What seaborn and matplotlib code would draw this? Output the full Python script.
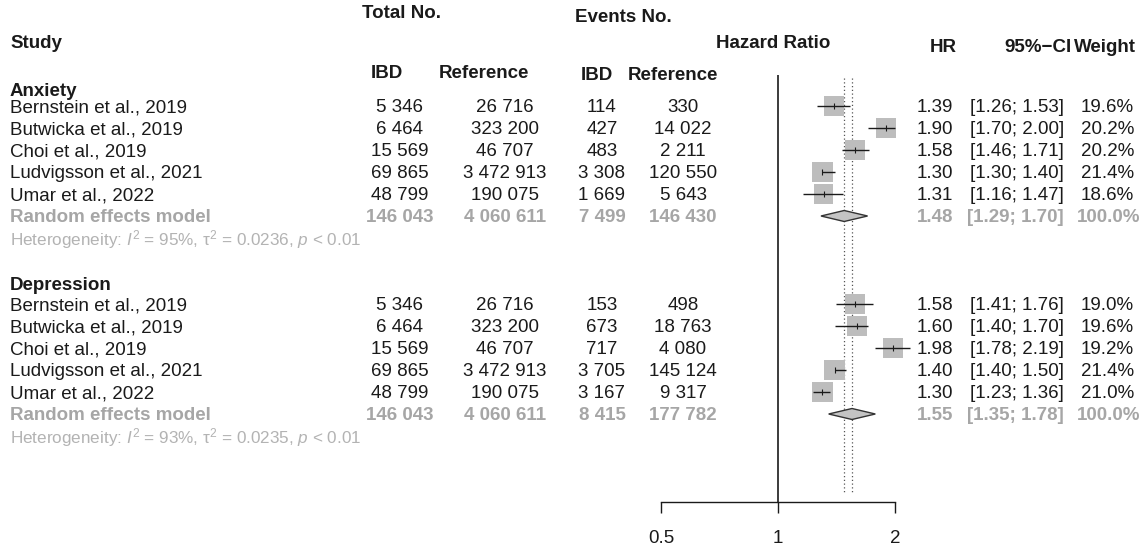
import seaborn as sns
import matplotlib.pyplot as plt
import numpy as np

# ---- data ----
studies = ["Bernstein et al., 2019", "Butwicka et al., 2019", "Choi et al., 2019",
           "Ludvigsson et al., 2021", "Umar et al., 2022"]
total_ibd = [5346, 6464, 15569, 69865, 48799]
total_ref = [26716, 323200, 46707, 3472913, 190075]

anx_evt_ibd = [114, 427, 483, 3308, 1669]
anx_evt_ref = [330, 14022, 2211, 120550, 5643]
anx_hr = [1.39, 1.90, 1.58, 1.30, 1.31]
anx_lo = [1.26, 1.70, 1.46, 1.30, 1.16]
anx_hi = [1.53, 2.00, 1.71, 1.40, 1.47]
anx_w = [19.6, 20.2, 20.2, 21.4, 18.6]
anx_pool = [146043, 4060611, 7499, 146430]
anx_pool_hr = [1.48, 1.29, 1.70]
anx_het = ["95%", "0.0236", "0.01"]

dep_evt_ibd = [153, 673, 717, 3705, 3167]
dep_evt_ref = [498, 18763, 4080, 145124, 9317]
dep_hr = [1.58, 1.60, 1.98, 1.40, 1.30]
dep_lo = [1.41, 1.40, 1.78, 1.40, 1.23]
dep_hi = [1.76, 1.70, 2.19, 1.50, 1.36]
dep_w = [19.0, 19.6, 19.2, 21.4, 21.0]
dep_pool = [146043, 4060611, 8415, 177782]
dep_pool_hr = [1.55, 1.35, 1.78]
dep_het = ["93%", "0.0235", "0.01"]

x_ticks = [0.5, 1, 2]

sns.set_theme(style="white")
plt.rcParams['font.family'] = ['Liberation Sans', 'DejaVu Sans']
plt.rcParams['mathtext.fontset'] = 'custom'
plt.rcParams['mathtext.rm'] = 'Liberation Sans'
plt.rcParams['mathtext.it'] = 'Liberation Sans:italic'

BLACK = '#1a1a1a'
GREY = '#a6a6a6'
HETGREY = '#b3b3b3'
FS = 13.5
ROW = 22

W, H = 1146, 545
fig = plt.figure(figsize=(W / 100, H / 100), dpi=100)
tx = fig.add_axes([0, 0, 1, 1])
tx.set_xlim(0, W)
tx.set_ylim(H, 0)
tx.axis('off')

# forest panel: log axis 0.5..2 mapped to its own box
X05, X2 = 661, 895
ax = fig.add_axes([X05 / W, 0, (X2 - X05) / W, 1])
ax.patch.set_alpha(0)
ax.set_xscale('log')
ax.set_xlim(0.5, 2)
ax.set_ylim(H, 0)

# column x positions (pixels)
COL_STUDY = 10
COL_TIBD, COL_TREF, COL_EIBD, COL_EREF = 400, 505, 602, 683
COL_HR, COL_CI, COL_W = 953, 1064, 1134


def fmt(n):
    return f"{n:,}".replace(",", " ")


def txt(x, y, s, ha='left', color=BLACK, bold=False, size=FS):
    tx.text(x, y + 2, s, ha=ha, va='center', color=color, fontsize=size,
            fontweight='bold' if bold else 'normal')


# headers
txt(COL_STUDY, 41, "Study", bold=True)
txt(362, 12, "Total No.", bold=True)
txt(575, 15, "Events No.", bold=True)
txt(COL_TIBD - 13, 72, "IBD", ha='center', bold=True)
txt(COL_TREF - 21, 72, "Reference", ha='center', bold=True)
txt(COL_EIBD - 5, 74, "IBD", ha='center', bold=True)
txt(COL_EREF - 10, 74, "Reference", ha='center', bold=True)
txt(773, 41, "Hazard Ratio", ha='center', bold=True)
txt(COL_HR + 4, 45, "HR", ha='right', bold=True)
txt(COL_CI + 8, 45, "95%\u2212CI", ha='right', bold=True)
txt(1136, 45, "Weight", ha='right', bold=True)


def block(top, gap, name, evt_ibd, evt_ref, hr, lo, hi, w, pool, pool_hr, het):
    txt(COL_STUDY, top - gap, name, bold=True)
    ys = np.array([top + ROW * i for i in range(len(studies))])
    for i, y in enumerate(ys):
        txt(COL_STUDY, y, studies[i])
        txt(COL_TIBD, y, fmt(total_ibd[i]), ha='center')
        txt(COL_TREF, y, fmt(total_ref[i]), ha='center')
        txt(COL_EIBD, y, fmt(evt_ibd[i]), ha='center')
        txt(COL_EREF, y, fmt(evt_ref[i]), ha='center')
        txt(COL_HR, y, f"{hr[i]:.2f}", ha='right')
        txt(COL_CI, y, f"[{lo[i]:.2f}; {hi[i]:.2f}]", ha='right')
        txt(COL_W, y, f"{w[i]:.1f}%", ha='right')
    yp = top + ROW * len(studies)
    txt(COL_STUDY, yp, "Random effects model", color=GREY, bold=True)
    for c, v in zip([COL_TIBD, COL_TREF, COL_EIBD, COL_EREF], pool):
        txt(c, yp, fmt(v), ha='center', color=GREY, bold=True)
    txt(COL_HR, yp, f"{pool_hr[0]:.2f}", ha='right', color=GREY, bold=True)
    txt(COL_CI, yp, f"[{pool_hr[1]:.2f}; {pool_hr[2]:.2f}]", ha='right', color=GREY, bold=True)
    txt(COL_W + 6, yp, "100.0%", ha='right', color=GREY, bold=True)
    txt(COL_STUDY, yp + ROW,
        f"Heterogeneity: $I^2$ = {het[0]}, \u03c4$^2$ = {het[1]}, $p$ < {het[2]}",
        color=HETGREY, size=12.3)

    # squares, CIs and point ticks
    sns.scatterplot(x=hr, y=ys, ax=ax, marker='s', s=np.array(w) * 10.5,
                    color='#bdbdbd', edgecolor='none', legend=False, zorder=2,
                    clip_on=False)
    ax.hlines(ys, lo, hi, color=BLACK, lw=1, zorder=3, clip_on=False)
    ax.scatter(hr, ys, marker='|', s=25, color=BLACK, lw=0.8, zorder=4, clip_on=False)

    # pooled diamond
    h = 5.5
    ax.fill([pool_hr[1], pool_hr[0], pool_hr[2], pool_hr[0]],
            [yp, yp - h, yp, yp + h], facecolor='#c4c4c4', edgecolor='#333333',
            lw=1, zorder=3, clip_on=False)


block(106, 16, "Anxiety", anx_evt_ibd, anx_evt_ref, anx_hr, anx_lo, anx_hi, anx_w,
      anx_pool, anx_pool_hr, anx_het)
block(304, 21, "Depression", dep_evt_ibd, dep_evt_ref, dep_hr, dep_lo, dep_hi, dep_w,
      dep_pool, dep_pool_hr, dep_het)

# reference lines
ax.vlines(1, 75, 502, color=BLACK, lw=1.2, zorder=1)
ax.vlines([anx_pool_hr[0], dep_pool_hr[0]], 78, 492, color='#555555', lw=0.9,
          linestyles=(0, (1, 2)), zorder=1)

# x axis
for side in ['top', 'right', 'left']:
    ax.spines[side].set_visible(False)
ax.spines['bottom'].set_position(('data', 502))
ax.spines['bottom'].set_bounds(0.5, 2)
ax.spines['bottom'].set_color(BLACK)
ax.spines['bottom'].set_linewidth(1)
ax.set_xticks(x_ticks)
ax.set_xticklabels(["0.5", "1", "2"])
ax.xaxis.set_minor_locator(plt.NullLocator())
ax.set_yticks([])
ax.tick_params(axis='x', direction='out', length=8, width=1, color=BLACK,
               labelsize=FS, labelcolor=BLACK, pad=12, bottom=True)

fig.savefig("out.png", dpi=100)
